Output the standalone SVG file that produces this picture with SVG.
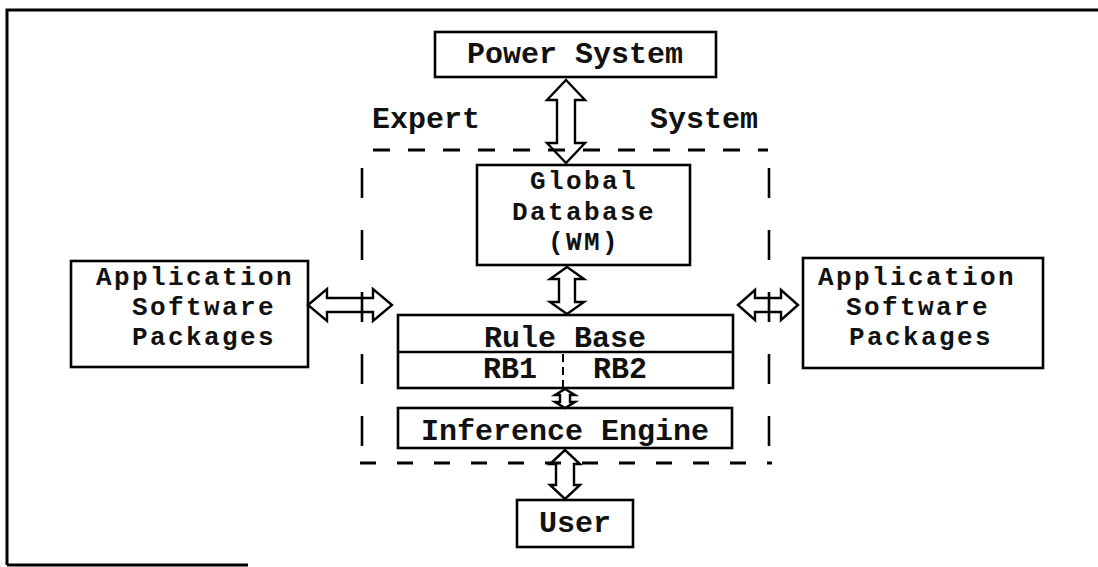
<svg xmlns="http://www.w3.org/2000/svg" width="1098" height="567" viewBox="0 0 1098 567">
  <style>
    .box { fill: none; stroke: #000; stroke-width: 2.6; }
    .frame { fill: none; stroke: #000; stroke-width: 3; }
    .dash-h { fill: none; stroke: #000; stroke-width: 3; stroke-dasharray: 17 18; }
    .dash-hb { fill: none; stroke: #000; stroke-width: 3; stroke-dasharray: 16 21; }
    .dash-v { fill: none; stroke: #000; stroke-width: 2.6; stroke-dasharray: 30 32; }
    .dash-div { fill: none; stroke: #000; stroke-width: 2; stroke-dasharray: 8 5; }
    .arrow { fill: none; stroke: #000; stroke-width: 2.4; stroke-linejoin: miter; }
    text { font-family: "Liberation Mono", "Courier New", monospace; font-weight: bold; font-size: 30px; fill: #111; }
    /* stacked multi-line labels: slightly smaller glyphs, same column pitch */
    text.ml { font-size: 26px; letter-spacing: 2.4px; }
    .c { text-anchor: middle; }
  </style>

  <!-- outer frame (open on the right and lower right) -->
  <path class="frame" d="M7,565 L7,10 L1098,10"/>
  <path class="frame" d="M7,565 L248,565"/>

  <!-- expert system boundary -->
  <g id="expert-system-boundary">
    <path class="dash-h" d="M373,150 L768,150"/>
    <path class="dash-hb" d="M360,463 L772,463"/>
    <path class="dash-v" d="M362,168 L362,450"/>
    <path class="dash-v" d="M769,168 L769,450"/>
    <text x="372" y="128">Expert</text>
    <text x="650" y="128">System</text>
  </g>

  <g id="power-system">
    <rect class="box" x="435" y="32" width="281" height="45"/>
    <text class="c" x="575" y="63">Power System</text>
  </g>

  <g id="global-database">
    <rect class="box" x="477" y="165" width="213" height="100"/>
    <text class="c ml" x="584" y="189">Global</text>
    <text class="c ml" x="584" y="220">Database</text>
    <text class="c ml" x="584" y="250">(WM)</text>
  </g>

  <g id="rule-base">
    <rect class="box" x="398" y="315" width="335" height="73"/>
    <line class="box" x1="398" y1="352" x2="733" y2="352"/>
    <line class="dash-div" x1="563" y1="354" x2="563" y2="388"/>
    <text class="c" x="565" y="347">Rule Base</text>
    <text class="c" x="510" y="378">RB1</text>
    <text class="c" x="620" y="378">RB2</text>
  </g>

  <g id="inference-engine">
    <rect class="box" x="398" y="408" width="334" height="40"/>
    <text class="c" x="565" y="440">Inference Engine</text>
  </g>

  <g id="user">
    <rect class="box" x="517" y="500" width="116" height="47"/>
    <text class="c" x="575" y="532">User</text>
  </g>

  <g id="app-software-left">
    <rect class="box" x="71" y="261" width="237" height="106"/>
    <text class="c ml" x="195" y="285">Application</text>
    <text class="c ml" x="204" y="315">Software</text>
    <text class="c ml" x="204" y="345">Packages</text>
  </g>

  <g id="app-software-right">
    <rect class="box" x="803" y="258" width="240" height="110"/>
    <text class="c ml" x="917" y="285">Application</text>
    <text class="c ml" x="918" y="315">Software</text>
    <text class="c ml" x="921" y="345">Packages</text>
  </g>

  <!-- double-headed hollow arrows -->
  <g id="connectors">
    <!-- power system <-> global database -->
    <path class="arrow" d="M566,80 L585,100 L575,100 L575,143 L585,143 L566,163 L547,143 L557,143 L557,100 L547,100 Z"/>
    <!-- global database <-> rule base -->
    <path class="arrow" d="M567,267 L584,279 L575,279 L575,302 L584,302 L567,314 L550,302 L559,302 L559,279 L550,279 Z"/>
    <!-- rule base <-> inference engine -->
    <path class="arrow" d="M565,389 L575,395 L570,395 L570,402 L575,402 L565,408 L555,402 L560,402 L560,395 L555,395 Z"/>
    <!-- inference engine <-> user -->
    <path class="arrow" d="M565,450 L580,464 L574,464 L574,485 L580,485 L565,499 L550,485 L556,485 L556,464 L550,464 Z"/>
    <!-- left application packages <-> expert system -->
    <path class="arrow" d="M308,305 L327,289 L327,298 L373,298 L373,289 L392,305 L373,321 L373,312 L327,312 L327,321 Z"/>
    <!-- expert system <-> right application packages -->
    <path class="arrow" d="M738,305 L755,290 L755,298 L781,298 L781,290 L798,305 L781,320 L781,312 L755,312 L755,320 Z"/>
  </g>
</svg>
